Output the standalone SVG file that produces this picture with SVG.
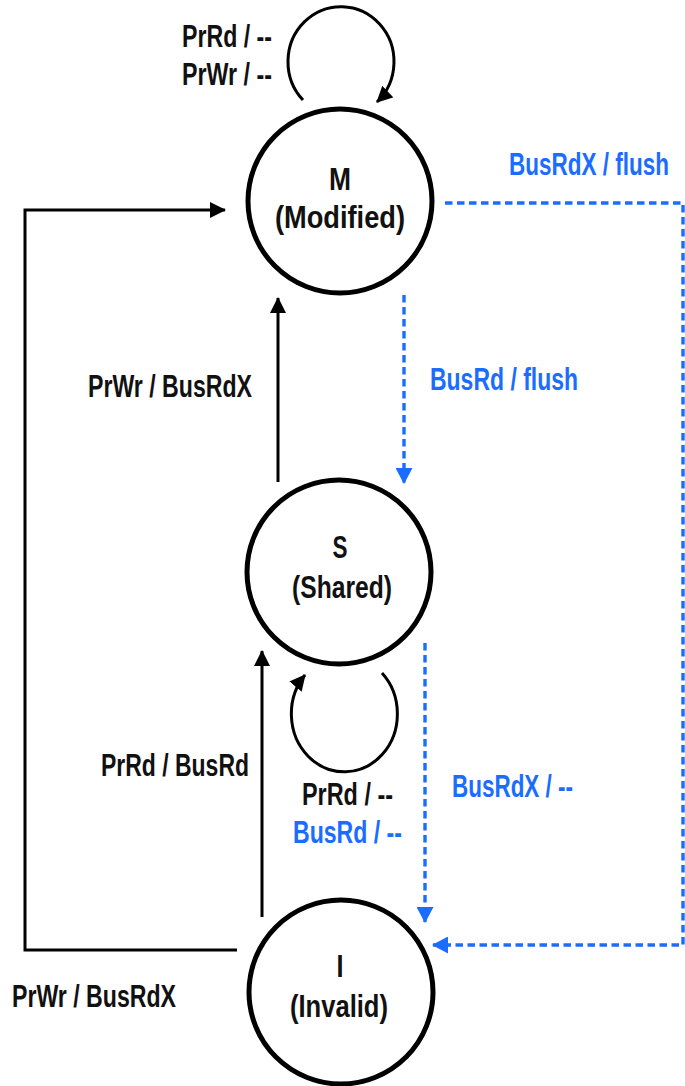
<svg xmlns="http://www.w3.org/2000/svg" width="685" height="1086" viewBox="0 0 685 1086">
<defs>
<style>
text{font-family:"Liberation Sans",Arial,sans-serif;font-weight:bold;font-size:31px;fill:#111}
.blue{fill:#1a6dff}
.state{fill:#fff;stroke:#000;stroke-width:5}
.edge{fill:none;stroke:#000;stroke-width:3}
.bedge{fill:none;stroke:#1a6dff;stroke-width:3.4;stroke-dasharray:7.5 4.5}
</style>
<marker id="ah" markerUnits="userSpaceOnUse" markerWidth="16" markerHeight="16" refX="15" refY="8" orient="auto">
<path d="M0,0 L16,8 L0,16 z" fill="#000"/>
</marker>
<marker id="bh" markerUnits="userSpaceOnUse" markerWidth="16" markerHeight="17" refX="15" refY="8.5" orient="auto">
<path d="M0,0 L16,8.5 L0,17 z" fill="#1a6dff"/>
</marker>
</defs>
<g id="connectors">
<path class="edge" d="M303,100 A53,55 0 1 1 377,102" marker-end="url(#ah)"/>
<path class="edge" d="M382,673 A53,58 0 1 1 305,675" marker-end="url(#ah)"/>
<path class="edge" d="M278,482 L278,298" marker-end="url(#ah)"/>
<path class="edge" d="M262,917 L262,651" marker-end="url(#ah)"/>
<path class="edge" d="M237,950 L25,950 L25,210 L225,210" marker-end="url(#ah)"/>
<path class="bedge" d="M445,203 L683,203 L683,945 L433,945" marker-end="url(#bh)"/>
<path class="bedge" d="M404,295 L404,483" marker-end="url(#bh)"/>
<path class="bedge" d="M425,643 L425,922" marker-end="url(#bh)"/>
</g>
<g id="labels">
<text x="182" y="47" textLength="90" lengthAdjust="spacingAndGlyphs">PrRd / --</text>
<text x="182" y="85" textLength="90" lengthAdjust="spacingAndGlyphs">PrWr / --</text>
<text class="blue" x="509" y="175" textLength="160" lengthAdjust="spacingAndGlyphs">BusRdX / flush</text>
<text x="88" y="397" textLength="164" lengthAdjust="spacingAndGlyphs">PrWr / BusRdX</text>
<text class="blue" x="430" y="390" textLength="148" lengthAdjust="spacingAndGlyphs">BusRd / flush</text>
<text x="101" y="776" textLength="148" lengthAdjust="spacingAndGlyphs">PrRd / BusRd</text>
<text x="302" y="805" textLength="91" lengthAdjust="spacingAndGlyphs">PrRd / --</text>
<text class="blue" x="293" y="843" textLength="109" lengthAdjust="spacingAndGlyphs">BusRd / --</text>
<text class="blue" x="452" y="797" textLength="121" lengthAdjust="spacingAndGlyphs">BusRdX / --</text>
<text x="12" y="1007" textLength="164" lengthAdjust="spacingAndGlyphs">PrWr / BusRdX</text>
</g>
<g id="node-M">
<circle class="state" cx="340" cy="201" r="92"/>
<text x="340" y="190" text-anchor="middle" textLength="22" lengthAdjust="spacingAndGlyphs">M</text>
<text x="275" y="228" textLength="130" lengthAdjust="spacingAndGlyphs">(Modified)</text>
</g>
<g id="node-S">
<circle class="state" cx="339" cy="572" r="92"/>
<text x="340" y="558" text-anchor="middle" textLength="15" lengthAdjust="spacingAndGlyphs">S</text>
<text x="292" y="598" textLength="100" lengthAdjust="spacingAndGlyphs">(Shared)</text>
</g>
<g id="node-I">
<circle class="state" cx="341" cy="992" r="92"/>
<text x="340" y="977" text-anchor="middle" textLength="7" lengthAdjust="spacingAndGlyphs">I</text>
<text x="290" y="1017" textLength="98" lengthAdjust="spacingAndGlyphs">(Invalid)</text>
</g>
</svg>
